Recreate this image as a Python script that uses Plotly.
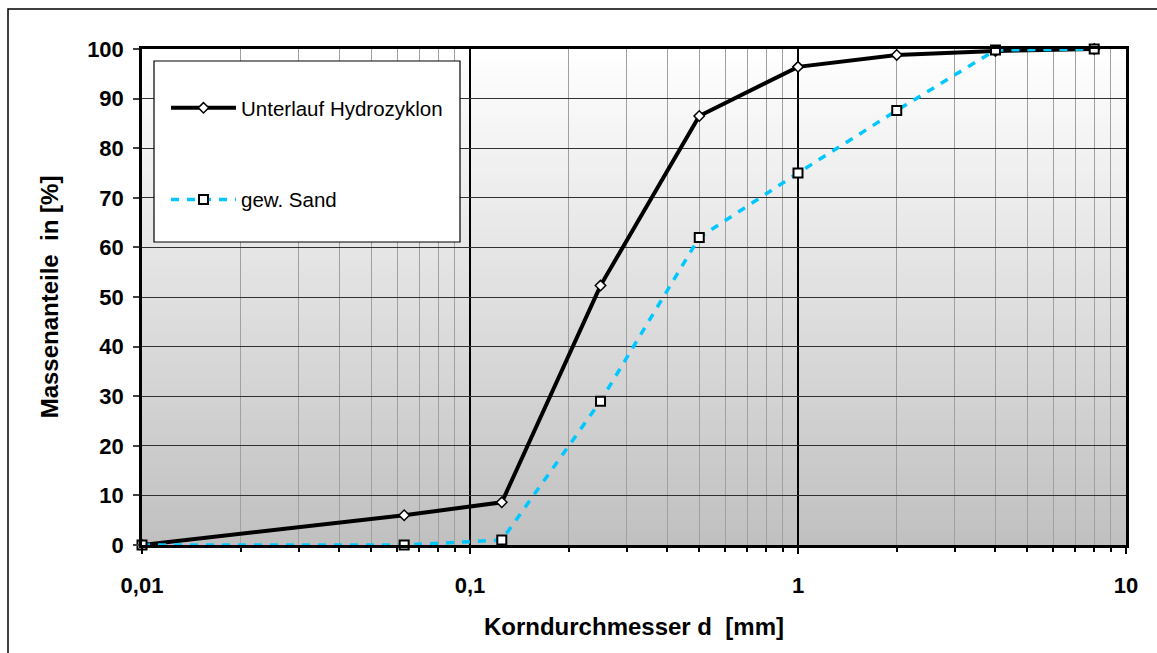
import plotly.graph_objects as go

# ---- data ----
sizes_mm = [0.01, 0.063, 0.125, 0.25, 0.5, 1, 2, 4, 8]
unterlauf = [0, 6, 8.6, 52.3, 86.5, 96.4, 98.8, 99.6, 100]
gew_sand = [0, 0, 1, 29, 62, 75, 87.6, 99.8, 100]

x_tickvals = [0.01, 0.1, 1, 10]
x_ticktext = ["0,01", "0,1", "1", "10"]
y_tickvals = [0, 10, 20, 30, 40, 50, 60, 70, 80, 90, 100]
minor_vals = [m * d for d in (0.01, 0.1, 1) for m in range(2, 10)]

W, H = 1157, 653
L, R, T, B = 142, 1126, 49, 545
FONT = "Liberation Sans, Arial, sans-serif"


def px_x(p):
    return (p - L) / (R - L)


def px_y(p):
    return (B - p) / (B - T)


fig = go.Figure()
fig.add_trace(go.Scatter(
    x=sizes_mm, y=unterlauf, name="Unterlauf Hydrozyklon", mode="lines+markers",
    line=dict(color="black", width=4),
    marker=dict(symbol="diamond", size=8, color="white", line=dict(color="black", width=1.5)),
    cliponaxis=False, legendgroup="a",
))
fig.add_trace(go.Scatter(
    x=sizes_mm, y=gew_sand, name="gew. Sand", mode="lines+markers",
    line=dict(color="#00c8ff", width=3.5, dash="8px,8px"),
    marker=dict(symbol="square", size=9, color="white", line=dict(color="black", width=2)),
    cliponaxis=False, legendgroup="b",
))

shapes = []
# background gradient (white at top -> gray at bottom)
N = 80
top = (255, 255, 255)
bot = (192, 192, 192)
for i in range(N):
    t = (i + 0.5) / N
    c = tuple(round(bot[k] + (top[k] - bot[k]) * t) for k in range(3))
    shapes.append(dict(type="rect", xref="x domain", yref="y domain", layer="below",
                       x0=0, x1=1, y0=i / N, y1=min(1, (i + 1) / N + 0.003),
                       fillcolor="rgb(%d,%d,%d)" % c, line=dict(width=0)))
# legend box
shapes.append(dict(type="rect", xref="paper", yref="paper", layer="above",
                   x0=px_x(154), x1=px_x(460), y0=px_y(242), y1=px_y(61),
                   fillcolor="white", line=dict(color="black", width=1.2)))
# outer chart border
shapes.append(dict(type="rect", xref="paper", yref="paper", layer="above",
                   x0=px_x(8), x1=px_x(1170), y0=px_y(670), y1=px_y(9),
                   fillcolor="rgba(0,0,0,0)", line=dict(color="black", width=1.5)))

fig.update_layout(
    width=W, height=H,
    margin=dict(l=L, r=W - R, t=T, b=H - B),
    paper_bgcolor="white", plot_bgcolor="#c0c0c0",
    font=dict(family=FONT, color="black"),
    shapes=shapes,
    showlegend=True,
    legend=dict(x=px_x(166), y=px_y(88), xanchor="left", yanchor="top",
                bgcolor="rgba(0,0,0,0)", borderwidth=0,
                font=dict(family=FONT, size=20.5, color="black"),
                itemwidth=65, tracegroupgap=62, traceorder="grouped"),
    xaxis=dict(
        type="log", range=[-2, 1],
        tickvals=x_tickvals, ticktext=x_ticktext,
        tickfont=dict(family=FONT, size=22, color="black", weight="bold"),
        ticks="outside", ticklen=6, tickwidth=1.5, tickcolor="black",
        showgrid=True, gridcolor="black", gridwidth=1.5,
        showline=True, linecolor="black", linewidth=2.5, mirror=True,
        minor=dict(tickvals=minor_vals, ticks="outside", ticklen=4, tickcolor="black",
                   showgrid=True, gridcolor="#a0a0a0", gridwidth=1),
        ticklabelstandoff=13,
        title=dict(text="Korndurchmesser d\u00a0\u00a0[mm]",
                   font=dict(family=FONT, size=24, color="black", weight="bold"),
                   standoff=22),
        zeroline=False,
    ),
    yaxis=dict(
        range=[0, 100], tickvals=y_tickvals,
        tickfont=dict(family=FONT, size=22, color="black", weight="bold"),
        ticks="outside", ticklen=6, tickwidth=1.5, tickcolor="#404040",
        showgrid=True, gridcolor="#303030", gridwidth=1,
        showline=True, linecolor="black", linewidth=2.5, mirror=True,
        ticklabelstandoff=5,
        title=dict(text="Massenanteile\u00a0\u00a0in [%]",
                   font=dict(family=FONT, size=24, color="black", weight="bold"),
                   standoff=22),
        zeroline=False,
    ),
)

fig.write_html("out.html", config={"displayModeBar": False},
               post_script="document.body.style.margin='0';")
